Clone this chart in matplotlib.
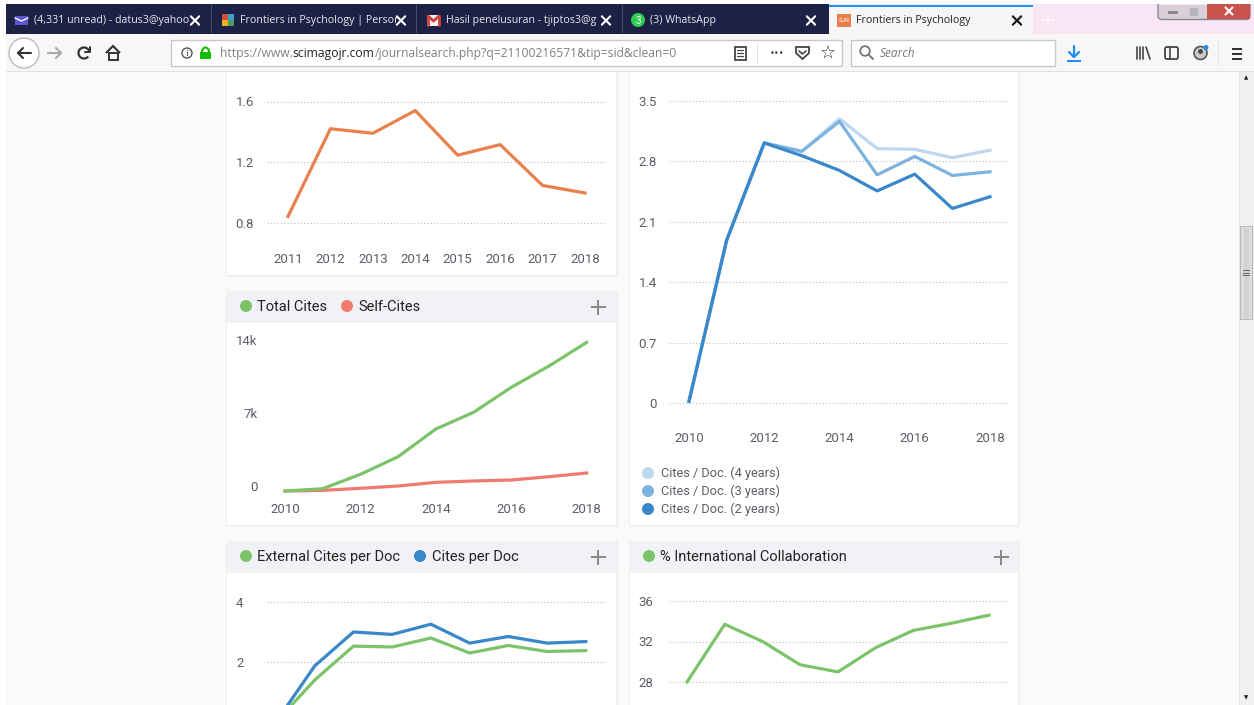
import matplotlib
matplotlib.use("Agg")
import matplotlib.pyplot as plt
from matplotlib.patches import Rectangle, FancyBboxPatch, Circle, Polygon, Arc

plt.rcParams['font.family'] = ['Roboto', 'DejaVu Sans']

# ---- data ----
years_a = [2011, 2012, 2013, 2014, 2015, 2016, 2017, 2018]
sjr_vals = [0.84, 1.42, 1.39, 1.54, 1.245, 1.315, 1.045, 0.995]
sjr_ticks = [0.8, 1.2, 1.6]

years = [2010, 2011, 2012, 2013, 2014, 2015, 2016, 2017, 2018]
total_cites = [0, 220, 1600, 3290, 5945, 7545, 9940, 11985, 14250]
self_cites = [0, 60, 260, 480, 830, 960, 1055, 1370, 1725]
cites_ticks = [0, 7000, 14000]
cites_labels = ['0', '7k', '14k']

years_4 = [2010, 2011, 2012, 2013, 2014, 2015, 2016, 2017, 2018]
cd4 = [0.02, 1.886, 3.014, 2.917, 3.294, 2.948, 2.94, 2.843, 2.93]
cd3 = [0.02, 1.886, 3.014, 2.917, 3.263, 2.644, 2.858, 2.637, 2.68]
cd2 = [0.02, 1.886, 3.014, 2.866, 2.695, 2.458, 2.652, 2.255, 2.39]
cd_ticks = [0, 0.7, 1.4, 2.1, 2.8, 3.5]

ext_per_doc = [0, 1.4, 2.53, 2.5, 2.8, 2.3, 2.55, 2.35, 2.38]
per_doc = [0, 1.87, 3.0, 2.92, 3.26, 2.63, 2.85, 2.63, 2.68]
epd_ticks = [2, 4]

intl = [28, 33.7, 32, 29.7, 29, 31.4, 33.1, 33.8, 34.6]
intl_ticks = [28, 32, 36]

tabs = ['(4,331 unread) - datus3@yahoo', 'Frontiers in Psychology | Persor',
        'Hasil penelusuran - tjiptos3@g', '(3) WhatsApp']

# ---- colours ----
ORANGE = '#e9804d'
GREEN = '#7cc36a'
RED = '#ef7a70'
BLUE = '#3a87c9'
BLUE3 = '#7db3e0'
BLUE4 = '#bcd7ef'
TXT = '#5a5f66'
HDR = '#f0f2f6'
NAVY = '#1c2145'

W, H = 1254, 705
fig = plt.figure(figsize=(W / 100, H / 100), dpi=100, facecolor='#fafafa')
bg = fig.add_axes([0, 0, 1, 1], zorder=0)
bg.set_xlim(0, W)
bg.set_ylim(H, 0)
bg.axis('off')


def rect(x0, y0, x1, y1, c, z=1, **kw):
    bg.add_patch(Rectangle((x0, y0), x1 - x0, y1 - y0, fc=c, ec='none', zorder=z, **kw))


def card(x0, y0, x1, y1, header=None):
    rect(x0 - 1.5, y0, x1 + 1.5, y1 + 2, '#f0f0f0', 1)
    rect(x0, y0, x1, y1, 'white', 2)
    if header:
        rect(x0, header[0], x1, header[1], HDR, 3)


def label(x, y, s, size=10.5, color='#222222', ha='left', fam=None, **kw):
    return bg.text(x, y, s, fontsize=size, color=color, ha=ha, va='center', zorder=6,
                   family=fam if fam else ['Roboto', 'DejaVu Sans'], **kw)


def seg(pts, c, lw=1.5, z=6):
    bg.plot([p[0] for p in pts], [p[1] for p in pts], color=c, lw=lw, zorder=z,
            solid_capstyle='round', solid_joinstyle='round')


def cross(x, y, c, r=4.2):
    seg([(x - r, y - r), (x + r, y + r)], c, 1.5)
    seg([(x - r, y + r), (x + r, y - r)], c, 1.5)


# browser chrome
rect(6, 4, W, 34, '#f8e6f5', 1)
rect(6, 4, 829, 34, NAVY, 2)
rect(829, 5, 1033, 35, '#f6f6f6', 3)
rect(829, 5, 1033, 7, '#1e90ff', 4)
rect(6, 34, W, 72, '#f7f7f7', 2)
rect(6, 71, W, 72, '#e2e2e2', 3)
for x in (211, 416, 622):
    rect(x, 5, x + 1, 33, '#4a4e6a', 3)
tab_x = [34, 240, 446, 650]
for s, x in zip(tabs, tab_x):
    label(x, 20, s, size=7.7, color='#e8e8ee', fam=['Open Sans'])
for x in (195, 401, 606, 811):
    cross(x, 20.5, 'white')
cross(1017, 20.5, '#111111')
label(856, 20, 'Frontiers in Psychology', size=7.7, color='#222222', fam=['Open Sans'])
rect(837, 14, 851, 27, ORANGE, 5)
bg.text(844, 20.5, 'SJR', fontsize=4.5, color='white', ha='center', va='center', zorder=6)
# favicons
rect(15, 16, 28, 25, '#5a55d0', 5)
seg([(15, 18), (21.5, 21), (28, 18)], 'white', 1)
rect(222, 14, 228, 20, '#d0503a', 5)
rect(228, 14, 234, 20, '#3f9fd0', 5)
rect(222, 20, 228, 26, '#e8b020', 5)
rect(228, 20, 234, 26, '#4aa05a', 5)
rect(427, 15, 440, 26, '#f2f2f2', 5)
seg([(428, 16), (433.5, 21), (439, 16)], '#d0413a', 2)
seg([(428, 16), (428, 25)], '#d0413a', 2)
seg([(439, 16), (439, 25)], '#d0413a', 2)
bg.add_patch(Circle((638, 20), 7, fc='#2ecc50', ec='none', zorder=5))
bg.text(638, 20.5, '3', fontsize=7, color='white', ha='center', va='center', zorder=6)
seg([(1048, 14), (1048, 26)], '#fdf4fb', 1.3)
seg([(1042, 20), (1054, 20)], '#fdf4fb', 1.3)

# window buttons
bg.add_patch(FancyBboxPatch((1158, 0), 92, 19.5, boxstyle='round,pad=0,rounding_size=4',
                            fc='#d8cfd8', ec='#8c8490', lw=1, zorder=3))
rect(1158.5, 4, 1249.5, 4.8, '#f8e6f5', 3)
rect(1207, 4, 1249.5, 19, '#c9534c', 4)
rect(1158.5, 0, 1250.5, 4, 'white', 5)
rect(1168, 11, 1178, 14, '#8a8a92', 5)
rect(1190, 8, 1198, 16, '#b4b4bc', 5)
rect(1192, 6, 1200, 14, '#d0d0d6', 4.5)
cross(1229, 11, 'white', 3.5)

# nav bar
bg.add_patch(Circle((24, 53), 15, fc='white', ec='#bcbcbc', lw=1, zorder=4))
seg([(18, 53), (31, 53)], '#333333')
seg([(23, 48), (18, 53), (23, 58)], '#333333')
seg([(48, 53), (61, 53)], '#aaaaaa')
seg([(56, 48), (61, 53), (56, 58)], '#aaaaaa')
bg.add_patch(Arc((84, 53), 11, 11, theta1=40, theta2=340, ec='#333333', lw=1.6, zorder=6))
seg([(90, 47), (90, 52), (85, 52)], '#333333', 1.4)
bg.add_patch(Polygon([(106, 53), (113, 46), (120, 53)], closed=False, fc='none', ec='#333333',
                     lw=1.5, zorder=6))
bg.add_patch(Rectangle((108.5, 53), 9, 6.5, fc='none', ec='#333333', lw=1.4, zorder=6))
for x0, x1 in ((171, 842), (851, 1055)):
    bg.add_patch(Rectangle((x0, 40), x1 - x0, 26, fc='white', ec='#c8c8c8', lw=1, zorder=4))
bg.add_patch(Circle((187, 53), 5, fc='none', ec='#555555', lw=1, zorder=6))
rect(186.5, 52, 187.7, 56, '#555555', 6)
rect(186.5, 50, 187.7, 51, '#555555', 6)
rect(200, 52, 211, 59, '#12bc00', 5)
bg.add_patch(Arc((205.5, 52), 7, 9, theta1=180, theta2=360, ec='#12bc00', lw=1.5, zorder=5))
t1 = label(220, 53.5, 'https://www.', size=8.75, color='#808080', fam=['Open Sans'])
t2 = bg.annotate('scimagojr.com', xy=(1, 0.5), xycoords=t1, va='center', ha='left',
                 fontsize=8.75, color='#222222', family=['Open Sans'], zorder=6)
bg.annotate('/journalsearch.php?q=21100216571&tip=sid&clean=0', xy=(1, 0.5), xycoords=t2,
            va='center', ha='left', fontsize=8.75, color='#808080', family=['Open Sans'], zorder=6)
# page-actions icons
bg.add_patch(Rectangle((734.5, 47), 11, 13, fc='none', ec='#444444', lw=1.3, zorder=6))
for y in (50, 53, 56):
    seg([(737, y), (743, y)], '#444444', 0.9)
rect(757, 42, 758, 64, '#e4e4e4', 5)
label(777, 53, '•••', size=6, color='#444444', ha='center', fam=['DejaVu Sans'])
bg.add_patch(Polygon([(796, 47), (809, 47), (809, 53), (802.5, 59), (796, 53)], closed=True,
                     fc='none', ec='#444444', lw=1.3, zorder=6))
seg([(799, 51), (802.5, 54), (806, 51)], '#444444', 1.2)
label(828, 52.5, '☆', size=13, color='#333333', ha='center', fam=['DejaVu Sans'])
bg.add_patch(Circle((865, 51), 4.8, fc='none', ec='#777777', lw=1.3, zorder=6))
seg([(869, 55), (873, 59)], '#777777', 1.4)
label(880, 53.5, 'Search', size=8.6, color='#777777', style='italic', fam=['Open Sans'])
seg([(1074, 46), (1074, 57)], '#1e8cf0', 1.6)
seg([(1069, 52), (1074, 57), (1079, 52)], '#1e8cf0', 1.6)
rect(1067, 60, 1081, 62, '#1e8cf0', 5)
for x in (1137, 1140, 1143):
    seg([(x, 47), (x, 59)], '#444444', 1.2)
seg([(1146, 47), (1150, 59)], '#444444', 1.2)
bg.add_patch(FancyBboxPatch((1165, 47), 13, 12, boxstyle='round,pad=0,rounding_size=2',
                            fc='none', ec='#444444', lw=1.3, zorder=5))
seg([(1170, 47), (1170, 59)], '#444444', 1.2)
bg.add_patch(Circle((1200.5, 53), 6.5, fc='#c9c9c9', ec='#555555', lw=1.2, zorder=5))
bg.add_patch(Circle((1200.5, 51.5), 2.4, fc='#444444', ec='none', zorder=6))
bg.add_patch(Circle((1206, 47.5), 2.5, fc='#1e8cf0', ec='none', zorder=7))
rect(1218, 40, 1219, 66, '#e4e4e4', 4)
for y in (48, 53, 58):
    rect(1232, y, 1242, y + 1.5, '#333333', 5)

# scrollbar and white margin
rect(1239, 72, W, H, '#f0f0f0', 2)
rect(1239, 72, 1240, H, '#e6e6e6', 3)
rect(1240, 226, 1253, 320, '#b8b8b8', 3)
rect(1241, 227, 1252, 319, '#dcdcdc', 4)
rect(1244, 228, 1249, 318, '#d2d2d2', 4)
for y in (270, 272.5, 275):
    rect(1243, y, 1250, y + 1, '#666666', 5)
label(1246.5, 78, '▲', size=4, color='#222222', ha='center', fam=['DejaVu Sans'])
label(1246.5, 698, '▼', size=4, color='#222222', ha='center', fam=['DejaVu Sans'])
rect(0, 0, 6, H, 'white', 8)
rect(0, 0, W, 4, 'white', 8)

# cards
card(227, 72, 616, 275)
card(227, 291, 616, 525, header=(291, 323))
card(630, 72, 1018, 525)
card(227, 541, 616, H + 5, header=(541, 573))
card(630, 541, 1018, H + 5, header=(541, 573))


def legend_dot(x, y, c):
    bg.add_patch(Circle((x, y), 6, fc=c, ec='none', zorder=6))


legend_dot(246, 306, GREEN)
label(257, 307, 'Total Cites', size=10.55)
legend_dot(347, 306, RED)
label(358, 307, 'Self-Cites', size=10.55)
legend_dot(246, 556, GREEN)
label(257, 557, 'External Cites per Doc', size=10.55)
legend_dot(420, 556, BLUE)
label(432, 557, 'Cites per Doc', size=10.55)
legend_dot(649, 556, GREEN)
label(660, 557, '% International Collaboration', size=10.55)
for x, y in ((598, 307), (598, 557), (1001, 557)):
    rect(x - 7.5, y - 0.75, x + 7.5, y + 0.75, '#8a8a8a', 6)
    rect(x - 0.75, y - 7.5, x + 0.75, y + 7.5, '#8a8a8a', 6)
for y, c, s in ((473, BLUE4, 'Cites / Doc. (4 years)'),
                (491, BLUE3, 'Cites / Doc. (3 years)'),
                (509, BLUE, 'Cites / Doc. (2 years)')):
    legend_dot(648, y, c)
    label(661, y, s, size=9.2, color=TXT)


def chart(x0, x1, xa, xb, ya, yb, top, bottom):
    """Axes over pixel box x0..x1, top..bottom; (xa,xb) and (ya,yb) are data limits."""
    ax = fig.add_axes([x0 / W, 1 - bottom / H, (x1 - x0) / W, (bottom - top) / H],
                      zorder=2, facecolor='none')
    ax.set_xlim(xa, xb)
    ax.set_ylim(ya, yb)
    for s in ax.spines.values():
        s.set_visible(False)
    ax.tick_params(length=0, labelcolor=TXT, labelsize=9.5)
    return ax


def grid(ax):
    ax.yaxis.grid(True, color='#bdbdbd', lw=0.8, ls=(0, (1, 2)))
    ax.set_axisbelow(True)


LW = 2.3


def y_of(py, p0, v0, p1, v1):
    return v0 + (py - p0) * (v1 - v0) / (p1 - p0)


def x_of(px, p0, v0, p1, v1):
    return v0 + (px - p0) * (v1 - v0) / (p1 - p0)


# chart 1
X0, X1, T, B = 267, 606, 85, 240
ax = chart(X0, X1, x_of(X0, 288, 2011, 585, 2018), x_of(X1, 288, 2011, 585, 2018),
           y_of(B, 101.5, 1.6, 222.5, 0.8), y_of(T, 101.5, 1.6, 222.5, 0.8), T, B)
grid(ax)
ax.plot(years_a, sjr_vals, color=ORANGE, lw=LW, solid_joinstyle='round')
ax.set_yticks(sjr_ticks, ['0.8', '1.2', '1.6'])
ax.set_xticks(years_a, [str(y) for y in years_a])
ax.tick_params(axis='y', pad=9.4)
ax.tick_params(axis='x', pad=9.3)

# chart 2 (labels sit above their tick value)
X0, X1, T, B = 267, 606, 335, 495
ax = chart(X0, X1, x_of(X0, 285, 2010, 586.7, 2018), x_of(X1, 285, 2010, 586.7, 2018),
           y_of(B, 491, 0, 345, 14000), y_of(T, 491, 0, 345, 14000), T, B)
ax.plot(years, self_cites, color=RED, lw=LW)
ax.plot(years, total_cites, color=GREEN, lw=LW)
ax.set_yticks(cites_ticks, cites_labels)
for lab in ax.get_yticklabels():
    lab.set_va('baseline')
ax.set_xticks(years[::2], [str(y) for y in years[::2]])
ax.tick_params(axis='y', pad=7)
ax.tick_params(axis='x', pad=6)

# chart 3
X0, X1, T, B = 669, 1008, 85, 415
ax = chart(X0, X1, x_of(X0, 689, 2010, 990, 2018), x_of(X1, 689, 2010, 990, 2018),
           y_of(B, 403, 0, 101, 3.5), y_of(T, 403, 0, 101, 3.5), T, B)
grid(ax)
ax.plot(years_4, cd4, color=BLUE4, lw=LW)
ax.plot(years_4, cd3, color=BLUE3, lw=LW)
ax.plot(years_4, cd2, color=BLUE, lw=LW)
ax.set_yticks(cd_ticks, ['0', '0.7', '1.4', '2.1', '2.8', '3.5'])
ax.set_xticks(years_4[::2], [str(y) for y in years_4[::2]])
ax.tick_params(axis='y', pad=8.6)
ax.tick_params(axis='x', pad=12)

# chart 4
X0, X1, T, B = 267, 606, 585, 705
ax = chart(X0, X1, x_of(X0, 276, 2010, 585.8, 2018), x_of(X1, 276, 2010, 585.8, 2018),
           y_of(B, 662, 2, 602, 4), y_of(T, 662, 2, 602, 4), T, B)
grid(ax)
ax.plot(years, ext_per_doc, color=GREEN, lw=LW)
ax.plot(years, per_doc, color=BLUE, lw=LW)
ax.set_yticks(epd_ticks, ['2', '4'])
ax.set_xticks([])
ax.tick_params(axis='y', pad=17)

# chart 5
X0, X1, T, B = 669, 1008, 585, 705
ax = chart(X0, X1, x_of(X0, 687, 2010, 989, 2018), x_of(X1, 687, 2010, 989, 2018),
           y_of(B, 682, 28, 601, 36), y_of(T, 682, 28, 601, 36), T, B)
grid(ax)
ax.plot(years, intl, color=GREEN, lw=LW)
ax.set_yticks(intl_ticks, ['28', '32', '36'])
ax.set_xticks([])
ax.tick_params(axis='y', pad=11.5)

fig.savefig('out.png', dpi=100, facecolor=fig.get_facecolor())
